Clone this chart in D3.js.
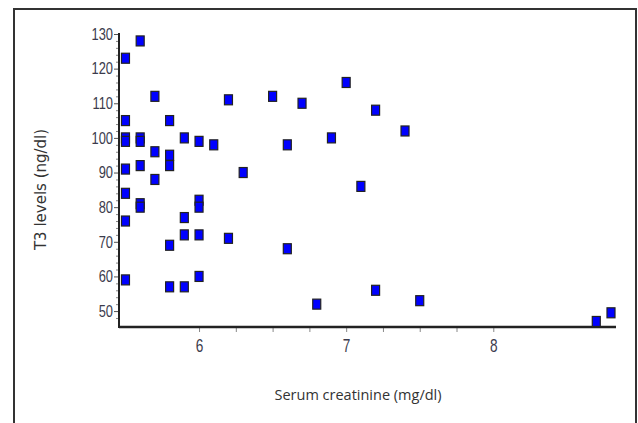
<!DOCTYPE html>
<html>
<head>
<meta charset="utf-8">
<script src="https://cdn.jsdelivr.net/npm/d3@7"></script>
<style>
  body { margin: 0; background: #fff; }
  .tick text { font-family: "Liberation Sans", Arial, sans-serif; }
</style>
</head>
<body>
<div id="chart"></div>
<script>
// serum creatinine (mg/dl) vs T3 levels (ng/dl)
const creatinine = [5.5, 5.5, 5.5, 5.5, 5.5, 5.5, 5.5, 5.5,
  5.6, 5.6, 5.6, 5.6, 5.6, 5.6,
  5.7, 5.7, 5.7,
  5.8, 5.8, 5.8, 5.8, 5.8,
  5.9, 5.9, 5.9, 5.9,
  6.0, 6.0, 6.0, 6.0, 6.0,
  6.1, 6.2, 6.2, 6.3, 6.5, 6.6, 6.6, 6.7, 6.8, 6.9, 7.0, 7.1, 7.2, 7.2, 7.4, 7.5,
  8.7, 8.8];
const t3 = [123, 105, 100, 99, 91, 84, 76, 59,
  128, 100, 99, 92, 81, 80,
  112, 96, 88,
  105, 95, 92, 69, 57,
  100, 77, 72, 57,
  99, 82, 80, 72, 60,
  98, 111, 71, 90, 112, 98, 68, 110, 52, 100, 116, 86, 108, 56, 102, 53,
  47, 49.5];

const xTicks = [6, 7, 8];
const xMinor = [6.25, 6.5, 6.75, 7.25, 7.5, 7.75];
const yTicks = [50, 60, 70, 80, 90, 100, 110, 120, 130];

const width = 638, height = 423;
const margin = ({top: 34, right: 22, bottom: 96, left: 119});
const squeeze = 0.78; // tick labels are a condensed face

const data = creatinine.map((c, i) => ({x: c, y: t3[i]}));

const x = d3.scaleLinear()
  .domain([5.456, 8.834])
  .range([margin.left, width - margin.right]);

const y = d3.scaleLinear()
  .domain([45.4, 130])
  .range([height - margin.bottom, margin.top]);

const svg = d3.select("#chart")
  .append("svg")
  .attr("width", width)
  .attr("height", height);

// frame around the figure
svg.append("rect")
  .attr("x", 14).attr("y", 9)
  .attr("width", 622).attr("height", 430)
  .attr("fill", "none")
  .attr("stroke", "#333")
  .attr("stroke-width", 2);

// minor y ticks
svg.append("g")
  .attr("transform", `translate(${margin.left},0)`)
  .call(d3.axisLeft(y).tickValues(d3.range(48, 130, 2).filter(v => v % 10)).tickSize(3).tickFormat(""))
  .call(g => g.select(".domain").remove())
  .call(g => g.selectAll("line").attr("stroke", "#888"));

const yAxis = g => g
  .attr("transform", `translate(${margin.left},0)`)
  .call(d3.axisLeft(y).tickValues(yTicks).tickSize(5).tickPadding(1))
  .call(g => g.select(".domain").remove())
  .call(g => g.selectAll("line").attr("stroke", "#555"))
  .call(g => g.selectAll("text")
    .attr("x", 0)
    .attr("transform", `translate(-6,0) scale(${squeeze},1)`)
    .attr("font-size", 16.5).attr("fill", "#3b3b4c"));

const xAxis = g => g
  .attr("transform", `translate(0,${height - margin.bottom})`)
  .call(d3.axisBottom(x).tickValues(xTicks.concat(xMinor)).tickSize(5).tickPadding(8)
    .tickFormat(d => xTicks.includes(d) ? d : ""))
  .call(g => g.select(".domain").remove())
  .call(g => g.selectAll("line").attr("stroke", "#888"))
  .call(g => g.selectAll("text")
    .attr("transform", `scale(${squeeze},1)`)
    .attr("font-size", 17.5).attr("fill", "#3b3b4c"));

svg.append("g").call(xAxis);
svg.append("g").call(yAxis);

// axis lines
svg.append("line")
  .attr("x1", x.range()[0]).attr("x2", x.range()[1])
  .attr("y1", y.range()[0]).attr("y2", y.range()[0])
  .attr("stroke", "#222").attr("stroke-width", 2.5);
svg.append("line")
  .attr("x1", x.range()[0]).attr("x2", x.range()[0])
  .attr("y1", y.range()[0] + 1).attr("y2", y.range()[1] - 1)
  .attr("stroke", "#222").attr("stroke-width", 2);

// points
svg.append("g")
  .selectAll("rect")
  .data(data)
  .join("rect")
    .attr("x", d => x(d.x) - 4)
    .attr("y", d => y(d.y) - 5)
    .attr("width", 8)
    .attr("height", 10)
    .attr("fill", "#0000ff")
    .attr("stroke", "#222")
    .attr("stroke-width", 1.2);

svg.append("text")
  .attr("transform", `translate(46,${(117 + 262) / 2}) rotate(-90)`)
  .attr("text-anchor", "middle")
  .attr("font-family", "DejaVu Sans, Verdana, sans-serif")
  .attr("font-size", 15)
  .attr("fill", "#333")
  .text("T3 levels (ng/dl)");

svg.append("text")
  .attr("x", 358)
  .attr("y", 400)
  .attr("text-anchor", "middle")
  .attr("font-family", "Open Sans, sans-serif")
  .attr("font-size", 14.5)
  .attr("fill", "#333")
  .text("Serum creatinine (mg/dl)");
</script>
</body>
</html>
